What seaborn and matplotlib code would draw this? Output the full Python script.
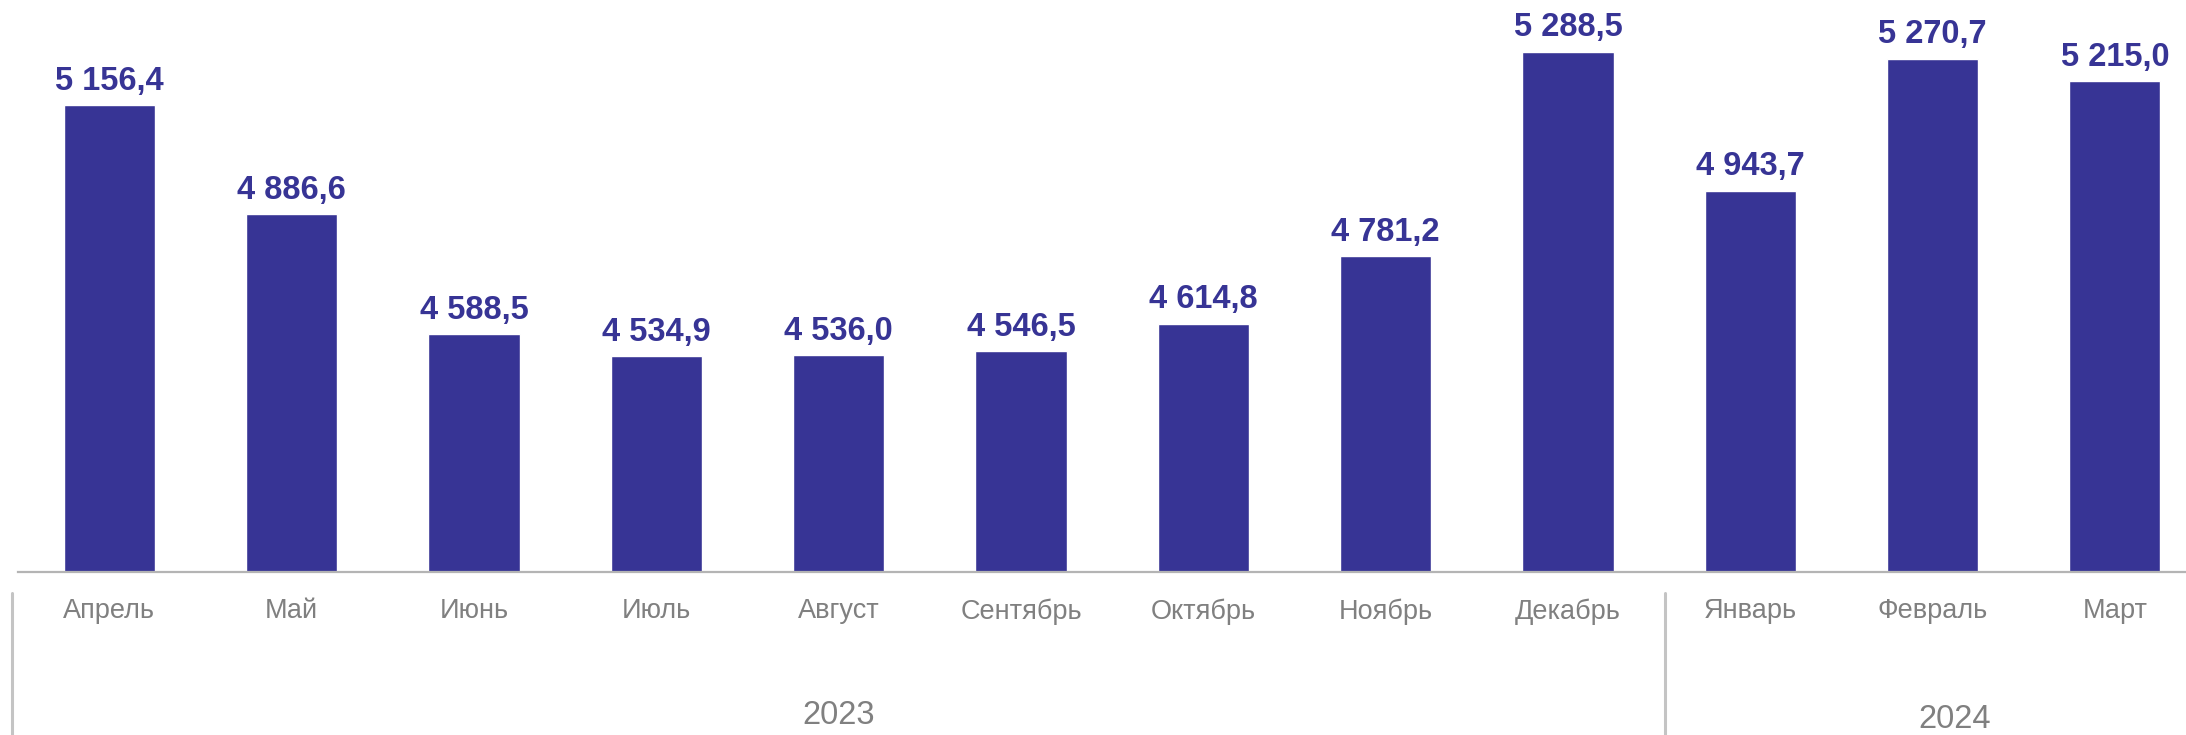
import matplotlib
matplotlib.use("Agg")
import matplotlib.pyplot as plt
import pandas as pd
import seaborn as sns

# data
months = ["Апрель", "Май", "Июнь", "Июль", "Август", "Сентябрь", "Октябрь",
          "Ноябрь", "Декабрь", "Январь", "Февраль", "Март"]
values = [5156.4, 4886.6, 4588.5, 4534.9, 4536.0, 4546.5, 4614.8,
          4781.2, 5288.5, 4943.7, 5270.7, 5215.0]
years = ["2023", "2024"]
year_sizes = [9, 3]

df = pd.DataFrame({"month": months, "value": values})

sns.set_theme(style="white")
plt.rcParams["font.family"] = ["Liberation Sans", "DejaVu Sans"]

bar_color = "#373495"
gray_text = "#808080"
sep_color = "#c4c4c4"

fig = plt.figure(figsize=(21.86, 7.35), dpi=100)
ax = fig.add_axes([12 / 2186, 163 / 735, 1 - 12 / 2186, 572 / 735])

sns.barplot(data=df, x="month", y="value", color=bar_color, width=0.5,
            saturation=1, ax=ax)

# value labels like "5 156,4"
labels = [f"{v:,.1f}".replace(",", " ").replace(".", ",") for v in values]
ax.bar_label(ax.containers[0], labels=labels, padding=6, fontsize=23.5,
             fontweight="bold", color=bar_color)

ax.set_ylim(4000, 5416)
ax.set_xlim(-0.534, 11.39)
ax.set_xlabel("")
ax.set_ylabel("")
ax.set_yticks([])
ax.tick_params(axis="x", length=0, pad=19, labelsize=19.5, labelcolor=gray_text)

for side in ["top", "right", "left"]:
    ax.spines[side].set_visible(False)
ax.spines["bottom"].set_color("#b4b4b4")
ax.spines["bottom"].set_linewidth(1.6)
ax.spines["bottom"].set_bounds(-0.5, 11.39)

# year groups with separators below the axis
trans = ax.get_xaxis_transform()
start = 0
edges = [-0.534]
for size in year_sizes:
    edges.append(start + size - 0.47)
    start += size
for x in edges[:-1]:
    ax.plot([x, x], [-0.037, -0.29], color=sep_color, lw=2.2,
            transform=trans, clip_on=False)

year_x = [4.0, 10.12]
year_y = [-0.25, -0.258]
for yr, xx, yy in zip(years, year_x, year_y):
    ax.text(xx, yy, yr, transform=trans, ha="center", va="center",
            fontsize=23.5, color=gray_text)

fig.savefig("out.png", dpi=100)
